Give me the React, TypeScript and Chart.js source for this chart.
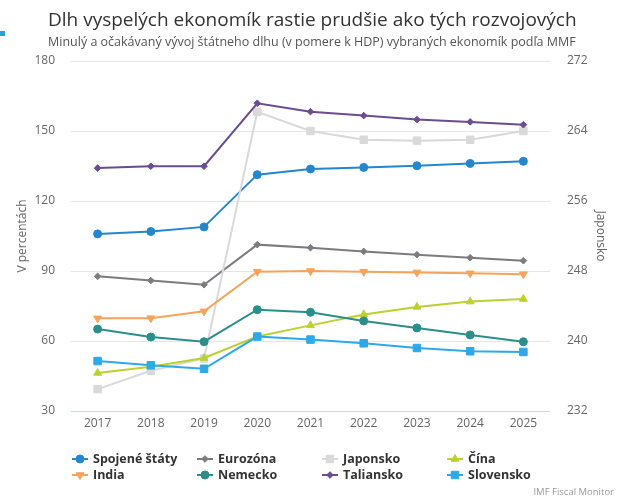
import React, { useEffect, useRef } from "react";
import { Chart, registerables } from "chart.js";
import { drawPoint } from "chart.js/helpers";

Chart.register(...registerables);

// Years on the horizontal axis
const years = ["2017", "2018", "2019", "2020", "2021", "2022", "2023", "2024", "2025"];

// Government debt, % of GDP
const spojeneStaty = [105.9, 106.9, 108.9, 131.3, 133.7, 134.4, 135.1, 136.1, 137.0];
const eurozona = [87.7, 85.9, 84.1, 101.3, 100.0, 98.4, 97.0, 95.7, 94.4];
const japonsko = [234.5, 236.6, 238.0, 266.2, 264.0, 263.0, 262.9, 263.0, 264.0];
const cina = [46.3, 49.0, 52.7, 61.9, 66.7, 71.4, 74.6, 76.9, 78.0];
const india = [69.7, 69.8, 72.7, 89.7, 90.0, 89.7, 89.4, 89.0, 88.6];
const nemecko = [65.1, 61.7, 59.7, 73.4, 72.3, 68.6, 65.6, 62.6, 59.7];
const taliansko = [134.1, 134.9, 134.9, 161.9, 158.3, 156.6, 154.9, 153.9, 152.7];
const slovensko = [51.4, 49.6, 48.1, 61.9, 60.6, 59.0, 57.0, 55.6, 55.3];

// Axis ranges
const leftTicks = { min: 30, max: 180, step: 30 };
const rightTicks = { min: 232, max: 272, step: 8 };

const TITLE = "Dlh vyspelých ekonomík rastie prudšie ako tých rozvojových";
const SUBTITLE = "Minulý a očakávaný vývoj štátneho dlhu (v pomere k HDP) vybraných ekonomík podľa MMF";
const SOURCE = "IMF Fiscal Monitor";

const FONT = "'Open Sans', 'DejaVu Sans', sans-serif";

type SeriesDef = {
  label: string;
  data: number[];
  color: string;
  style: string;
  radius: number;
  rotation?: number;
  axis?: string;
};

const series: SeriesDef[] = [
  { label: "Spojené štáty", data: spojeneStaty, color: "#2487cd", style: "circle", radius: 4 },
  { label: "Eurozóna", data: eurozona, color: "#7b7b80", style: "rectRot", radius: 3.3 },
  { label: "Japonsko", data: japonsko, color: "#d9d9d9", style: "rect", radius: 5.3, axis: "y1" },
  { label: "Čína", data: cina, color: "#bcd032", style: "triangle", radius: 4.5 },
  { label: "India", data: india, color: "#f7a35c", style: "triangle", radius: 4.5, rotation: 180 },
  { label: "Nemecko", data: nemecko, color: "#2a8f8a", style: "circle", radius: 4 },
  { label: "Taliansko", data: taliansko, color: "#6a4c8f", style: "rectRot", radius: 3.3 },
  { label: "Slovensko", data: slovensko, color: "#2da9e9", style: "rect", radius: 5.3 },
];

// Title, subtitle, source note and the four-column legend
const decorations = {
  id: "decorations",
  afterDraw(chart: any) {
    const ctx = chart.ctx as CanvasRenderingContext2D;
    ctx.save();

    ctx.fillStyle = "#2a9fd6";
    ctx.fillRect(0, 31, 5, 5);

    ctx.textAlign = "left";
    ctx.textBaseline = "alphabetic";
    ctx.fillStyle = "#333333";
    ctx.font = `19px ${FONT}`;
    ctx.fillText(TITLE, 48, 26);

    ctx.fillStyle = "#555555";
    ctx.font = `12.5px ${FONT}`;
    ctx.fillText(SUBTITLE, 48, 46);

    ctx.textAlign = "right";
    ctx.fillStyle = "#999999";
    ctx.font = `9.5px ${FONT}`;
    ctx.fillText(SOURCE, 614, 495);

    chart.data.datasets.forEach((ds: any, i: number) => {
      const col = i % 4;
      const row = Math.floor(i / 4);
      const x0 = 72 + col * 125;
      const y = 459 + row * 16;
      ctx.strokeStyle = ds.borderColor;
      ctx.lineWidth = 2;
      ctx.beginPath();
      ctx.moveTo(x0, y);
      ctx.lineTo(x0 + 16, y);
      ctx.stroke();
      ctx.fillStyle = ds.pointBackgroundColor;
      ctx.strokeStyle = ds.pointBorderColor;
      ctx.lineWidth = 1;
      drawPoint(ctx, { pointStyle: ds.pointStyle, radius: ds.pointRadius, rotation: ds.pointRotation || 0, borderWidth: 1 }, x0 + 8, y);
      ctx.fillStyle = "#333333";
      ctx.textAlign = "left";
      ctx.textBaseline = "middle";
      ctx.font = `bold 12.5px ${FONT}`;
      ctx.fillText(ds.label, x0 + 21, y);
    });

    ctx.restore();
  },
};

export default function App() {
  const canvasRef = useRef<HTMLCanvasElement | null>(null);

  useEffect(() => {
    const canvas = canvasRef.current;
    if (!canvas) return;

    const datasets = series.map((s, i) => ({
      label: s.label,
      data: s.data,
      yAxisID: s.axis || "y",
      borderColor: s.color,
      backgroundColor: s.color,
      pointBackgroundColor: s.color,
      pointBorderColor: s.color,
      pointBorderWidth: 1,
      pointStyle: s.style,
      pointRadius: s.radius,
      pointRotation: s.rotation || 0,
      borderWidth: 2,
      tension: 0,
      order: series.length - i,
    }));

    const chart = new Chart(canvas, {
      type: "line",
      data: { labels: years, datasets },
      options: {
        responsive: false,
        animation: false,
        events: [],
        layout: { padding: { top: 61, bottom: 59, left: 0, right: 0 } },
        plugins: {
          legend: { display: false },
          title: { display: false },
          tooltip: { enabled: false },
        },
        scales: {
          x: {
            type: "category",
            offset: true,
            grid: { display: false, drawTicks: false },
            border: { display: false },
            ticks: { color: "#666666", font: { family: FONT, size: 12 }, padding: 5 },
            afterFit: (scale: any) => {
              scale.height = 30;
            },
          },
          y: {
            position: "left",
            min: leftTicks.min,
            max: leftTicks.max,
            ticks: {
              stepSize: leftTicks.step,
              color: "#666666",
              font: { family: FONT, size: 12 },
              padding: 16,
            },
            grid: {
              drawTicks: false,
              color: (c: any) => (c.tick && c.tick.value === leftTicks.min ? "#ccd6eb" : "#e6e6e6"),
            },
            border: { display: false },
            title: {
              display: true,
              text: "V percentách",
              color: "#666666",
              font: { family: FONT, size: 12 },
              padding: { top: 15, bottom: 0 },
            },
            afterFit: (scale: any) => {
              scale.width = 71;
            },
          },
          y1: {
            position: "right",
            min: rightTicks.min,
            max: rightTicks.max,
            ticks: {
              stepSize: rightTicks.step,
              color: "#666666",
              font: { family: FONT, size: 12 },
              padding: 17,
            },
            grid: { display: false, drawTicks: false },
            border: { display: false },
            title: {
              display: true,
              text: "Japonsko",
              color: "#666666",
              font: { family: FONT, size: 12 },
              padding: { top: 14, bottom: 0 },
            },
            afterFit: (scale: any) => {
              scale.width = 72;
            },
          },
        },
      },
      plugins: [decorations],
    });

    return () => chart.destroy();
  }, []);

  return (
    <div style={{ position: "fixed", left: 0, top: 0, width: 622, height: 500, background: "#ffffff" }}>
      <canvas ref={canvasRef} width={622} height={500} />
    </div>
  );
}
